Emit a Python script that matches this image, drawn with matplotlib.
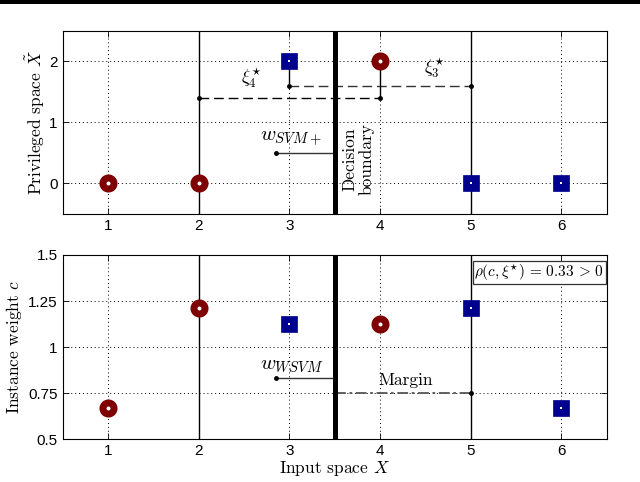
import matplotlib

matplotlib.use("Agg")
import matplotlib.pyplot as plt
from matplotlib.patches import Rectangle

# positive class (red rings) and negative class (blue squares)
POS_X = [1, 2, 4]
NEG_X = [3, 5, 6]
PRIV_POS = [0, 0, 2]
PRIV_NEG = [2, 0, 0]
WEIGHT_POS = [0.667, 1.21, 1.125]
WEIGHT_NEG = [1.125, 1.21, 0.667]

BOUNDARY_X = 3.5
SUPPORT_X = [2, 5]
XI4_Y = 1.4
XI3_Y = 1.6
W_Y_TOP = 0.5
W_Y_BOT = 0.83
MARGIN_Y = 0.75

X_TICKS = [1, 2, 3, 4, 5, 6]
TOP_YTICKS = [0, 1, 2]
BOT_YTICKS = [0.5, 0.75, 1, 1.25, 1.5]
BOT_YTICKLABELS = ["0.5", "0.75", "1", "1.25", "1.5"]

RED = "#7f0000"
BLUE = "#00008f"
TICK_FONT = "Liberation Sans"

plt.rcParams["mathtext.fontset"] = "cm"
plt.rcParams["font.family"] = "serif"
plt.rcParams["font.serif"] = ["cmr10", "DejaVu Serif"]
plt.rcParams["axes.formatter.use_mathtext"] = True


def draw_points(ax, pos_y, neg_y):
    ax.plot(POS_X, pos_y, "o", ms=8, mfc="white", mec=RED, mew=5, zorder=5)
    ax.plot(NEG_X, neg_y, "s", ms=11.5, mfc=BLUE, mec=BLUE, mew=0.5, zorder=5)
    ax.plot(NEG_X, neg_y, "s", ms=2, mfc="white", mec="white", mew=0, zorder=6)


def style(ax, yticks, ylabels, ylim):
    ax.set_xlim(0.5, 6.5)
    ax.set_ylim(*ylim)
    ax.set_xticks(X_TICKS)
    ax.set_xticklabels([str(v) for v in X_TICKS], fontfamily=TICK_FONT, fontsize=11)
    ax.set_yticks(yticks)
    ax.set_yticklabels(ylabels, fontfamily=TICK_FONT, fontsize=11)
    ax.tick_params(direction="in", length=4, width=0.6, top=True, right=True)
    ax.grid(True, linestyle=(0, (1, 3)), color="black", linewidth=0.7)
    for sp in ax.spines.values():
        sp.set_linewidth(0.8)
    for x in SUPPORT_X:
        ax.axvline(x, color="black", lw=1.0, zorder=3)
    ax.axvline(BOUNDARY_X, color="black", lw=3.6, zorder=4)


fig = plt.figure(figsize=(6.4, 4.82), dpi=100)
fig.add_artist(Rectangle((0, 1 - 3.5 / 482), 1, 3.5 / 482, transform=fig.transFigure,
                         color="black", lw=0))

ax1 = fig.add_axes([0.098, 0.556, 0.850, 0.380])
ax2 = fig.add_axes([0.098, 0.089, 0.850, 0.382])

# --- privileged space
style(ax1, TOP_YTICKS, [str(v) for v in TOP_YTICKS], (-0.5, 2.5))
draw_points(ax1, PRIV_POS, PRIV_NEG)
ax1.plot([SUPPORT_X[0], POS_X[2]], [XI4_Y, XI4_Y], color="black", lw=1.0,
         dashes=(7, 3.5), zorder=3)
ax1.plot([NEG_X[0], SUPPORT_X[1]], [XI3_Y, XI3_Y], color="#333333", lw=1.0,
         dashes=(7, 3.5), zorder=3)
ax1.plot([NEG_X[0], NEG_X[0]], [PRIV_NEG[0], XI3_Y], color="black", lw=1.0, zorder=3)
ax1.plot([POS_X[2], POS_X[2]], [PRIV_POS[2], XI4_Y], color="black", lw=1.0, zorder=3)
ax1.plot([SUPPORT_X[0], POS_X[2], NEG_X[0], SUPPORT_X[1]], [XI4_Y, XI4_Y, XI3_Y, XI3_Y],
         "o", color="black", ms=2.5, zorder=4)
ax1.text(2.58, 1.72, r"$\xi_4^{\star}$", fontsize=13, ha="center", va="center")
ax1.text(4.6, 1.88, r"$\xi_3^{\star}$", fontsize=13, ha="center", va="center")
ax1.plot([2.85, BOUNDARY_X], [W_Y_TOP, W_Y_TOP], color="#333333", lw=1.0, zorder=3)
ax1.plot([2.85], [W_Y_TOP], "o", color="black", ms=2.5, zorder=4)
ax1.text(3.02, 0.73, r"$w_{SVM+}$", fontsize=15, ha="center", va="center")
ax1.text(3.76, 0.40, "Decision\nboundary", rotation=90, fontsize=12.5, ha="center",
         va="center", multialignment="center", linespacing=1.1)
ax1.set_ylabel(r"Privileged space $\tilde{X}$", fontsize=12.5, labelpad=2)

# --- instance weights
style(ax2, BOT_YTICKS, BOT_YTICKLABELS, (0.5, 1.5))
draw_points(ax2, WEIGHT_POS, WEIGHT_NEG)
ax2.plot([2.85, BOUNDARY_X], [W_Y_BOT, W_Y_BOT], color="#333333", lw=1.0, zorder=3)
ax2.plot([2.85], [W_Y_BOT], "o", color="black", ms=2.5, zorder=4)
ax2.text(3.02, 0.895, r"$w_{WSVM}$", fontsize=15, ha="center", va="center")
ax2.plot([BOUNDARY_X, SUPPORT_X[1]], [MARGIN_Y, MARGIN_Y], color="#555555", lw=1.3,
         dashes=(6, 2, 1.5, 2), zorder=3)
ax2.plot([SUPPORT_X[1]], [MARGIN_Y], "o", color="black", ms=2.5, zorder=4)
ax2.text(3.98, 0.82, "Margin", fontsize=12.5, ha="left", va="center")
ax2.text(6.47, 1.405, r"$\rho(c,\xi^{\star})\,=\,0.33\,>\,0$", fontsize=11, ha="right",
         va="center", zorder=7,
         bbox=dict(boxstyle="square,pad=0.1", fc="white", ec="#333333", lw=0.9))
ax2.set_ylabel(r"Instance weight $c$", fontsize=12.5, labelpad=3)
ax2.set_xlabel(r"Input space $X$", fontsize=12.5, labelpad=1)

fig.savefig("out.png", dpi=100)
